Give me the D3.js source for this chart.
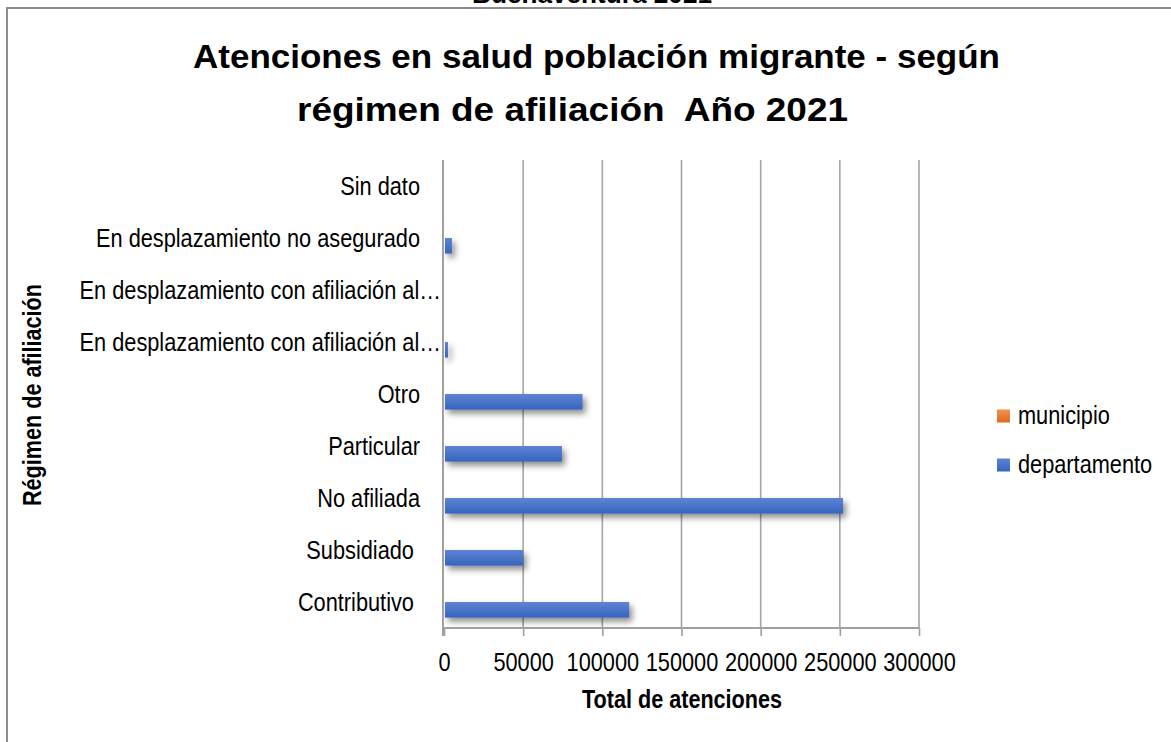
<!DOCTYPE html>
<html>
<head>
<meta charset="utf-8">
<script src="https://cdn.jsdelivr.net/npm/d3@7"></script>
<style>
  html, body { margin: 0; padding: 0; background: #ffffff; }
  svg { display: block; }
  text { white-space: pre; fill: #000; }
</style>
</head>
<body>
<svg id="chart" width="1171" height="742"></svg>
<script>
// Categories, listed top to bottom as they appear on the vertical axis
const categories = [
  "Sin dato",
  "En desplazamiento no asegurado",
  "En desplazamiento con afiliación al…",
  "En desplazamiento con afiliación al…",
  "Otro",
  "Particular",
  "No afiliada",
  "Subsidiado ",
  "Contributivo "
];
const seriesNames = ["municipio", "departamento"];
const municipio    = [0, 0, 0, 0, 0, 0, 0, 0, 0];
const departamento = [0, 5000, 150, 2500, 87500, 74500, 252000, 50000, 117000];
const xTicks = [0, 50000, 100000, 150000, 200000, 250000, 300000];

const titleLines = ["Atenciones en salud población migrante - según", "régimen de afiliación  Año 2021"];
const topCaption = "Buenaventura 2021";
const xTitle = "Total de atenciones";
const yTitle = "Régimen de afiliación";

const FONT = "'Liberation Sans Narrow', 'Arial Narrow', 'Liberation Sans', Arial, sans-serif";

const svg = d3.select("#chart");
const defs = svg.append("defs");

// bar gradients and soft shadow
const gradDefs = [["departamento", "#5d84d4", "#3764be"], ["municipio", "#f3904e", "#df6a1c"]];
gradDefs.forEach(([id, c0, c1]) => {
  const g = defs.append("linearGradient").attr("id", "grad-" + id)
    .attr("x1", 0).attr("y1", 0).attr("x2", 0).attr("y2", 1);
  g.append("stop").attr("offset", "0%").attr("stop-color", c0);
  g.append("stop").attr("offset", "100%").attr("stop-color", c1);
});
const sh = defs.append("filter").attr("id", "shadow")
  .attr("x", "-5%").attr("y", "-50%").attr("width", "115%").attr("height", "250%");
sh.append("feDropShadow").attr("dx", 3).attr("dy", 4).attr("stdDeviation", 3)
  .attr("flood-color", "#000").attr("flood-opacity", 0.45);

svg.append("rect").attr("width", 1171).attr("height", 742).attr("fill", "#fff");

// caption partly hidden behind the frame at the top
const cap = svg.append("text").attr("x", 592).attr("y", 3)
  .attr("text-anchor", "middle").attr("font-family", FONT)
  .attr("font-weight", "bold").attr("font-size", 25).text(topCaption);

// frame
svg.append("path").attr("d", "M7,742 V8 H1171")
  .attr("fill", "none").attr("stroke", "#8c8c8c").attr("stroke-width", 2);

const plot = { left: 444, right: 919, top: 160, bottom: 628 };
const idx = d3.range(categories.length);

const x = d3.scaleLinear().domain([0, 300000]).range([plot.left, plot.right]);
const y0 = d3.scaleBand().domain(idx).range([plot.top, plot.bottom]).padding(0);
const y1 = d3.scaleBand().domain(seriesNames).range([0, y0.bandwidth()])
  .paddingInner(0).paddingOuter(0.667);

// vertical gridlines
svg.append("g").selectAll("line").data(xTicks.slice(1)).join("line")
  .attr("x1", d => x(d)).attr("x2", d => x(d))
  .attr("y1", plot.top).attr("y2", plot.bottom)
  .attr("stroke", "#a6a6a6").attr("stroke-width", 1.6);

// bars
const seriesValues = { municipio, departamento };
const barG = svg.append("g").attr("filter", "url(#shadow)");
idx.forEach(i => {
  seriesNames.forEach(s => {
    const v = seriesValues[s][i];
    if (v <= 0) return;
    barG.append("rect")
      .attr("x", x(0) + 1)
      .attr("y", y0(i) + y1(s))
      .attr("width", Math.max(0, x(v) - x(0) - 1))
      .attr("height", y1.bandwidth())
      .attr("fill", "url(#grad-" + s + ")");
  });
});

// x axis with ticks below the line
const xAxis = d3.axisBottom(x).tickValues(xTicks).tickSize(8).tickFormat(d3.format("d"));
const xg = svg.append("g").attr("transform", `translate(0,${plot.bottom})`).call(xAxis);
xg.select(".domain").attr("stroke", "#a0a0a0").attr("stroke-width", 2)
  .attr("d", `M${plot.left},0H${plot.right}`);
xg.selectAll(".tick line").attr("stroke", "#a0a0a0").attr("stroke-width", 1.6);
xg.selectAll(".tick text").attr("font-family", FONT).attr("font-size", 25)
  .attr("fill", "#000").attr("dy", null).attr("y", 43);

// y axis line
svg.append("line").attr("x1", plot.left - 1).attr("x2", plot.left - 1)
  .attr("y1", plot.top).attr("y2", plot.bottom + 8)
  .attr("stroke", "#a0a0a0").attr("stroke-width", 2);

// category labels (truncated names run a little further right)
const catLabels = svg.append("g").selectAll("text").data(idx).join("text")
  .attr("x", i => categories[i].endsWith("…") ? 441 : 420)
  .attr("y", i => y0(i) + y0.bandwidth() / 2 + 9)
  .attr("text-anchor", "end").attr("font-family", FONT).attr("font-size", 25)
  .text(i => categories[i]);

// titles
const t1 = svg.append("text").attr("x", 193).attr("y", 68)
  .attr("font-family", FONT).attr("font-weight", "bold").attr("font-size", 33).text(titleLines[0]);
const t2 = svg.append("text").attr("x", 297).attr("y", 121)
  .attr("font-family", FONT).attr("font-weight", "bold").attr("font-size", 33).text(titleLines[1]);

const xt = svg.append("text").attr("x", 682).attr("y", 708).attr("text-anchor", "middle")
  .attr("font-family", FONT).attr("font-weight", "bold").attr("font-size", 25).text(xTitle);
const yt = svg.append("text").attr("transform", "translate(41,395) rotate(-90)")
  .attr("text-anchor", "middle").attr("font-family", FONT)
  .attr("font-weight", "bold").attr("font-size", 25).text(yTitle);

// legend
const legendY = [416, 465];
const leg = svg.append("g");
seriesNames.forEach((s, i) => {
  leg.append("rect").attr("x", 997).attr("y", legendY[i] - 6.5).attr("width", 13).attr("height", 13)
    .attr("fill", "url(#grad-" + s + ")");
});
const legText = leg.selectAll("text").data(seriesNames).join("text")
  .attr("x", 1018).attr("y", (d, i) => legendY[i] + 8)
  .attr("font-family", FONT).attr("font-size", 25).text(d => d);

// horizontal fitting: one width factor per text group, taken from a reference string
function squeeze(sel, k) {
  sel.each(function () {
    const w = this.getComputedTextLength();
    d3.select(this).attr("textLength", w * k).attr("lengthAdjust", "spacingAndGlyphs");
  });
}
function fitTo(sel, width) {
  squeeze(sel, width / sel.node().getComputedTextLength());
}
const regularRef = catLabels.filter(i => categories[i] === "En desplazamiento no asegurado").node();
const kRegular = 324 / regularRef.getComputedTextLength();
[catLabels, xg.selectAll(".tick text"), legText].forEach(sel => squeeze(sel, kRegular));

fitTo(t1, 807);
fitTo(t2, 551);

const kBold = 200 / xt.node().getComputedTextLength();
squeeze(xt, kBold);
squeeze(yt, kBold);
fitTo(cap, 240);
</script>
</body>
</html>
